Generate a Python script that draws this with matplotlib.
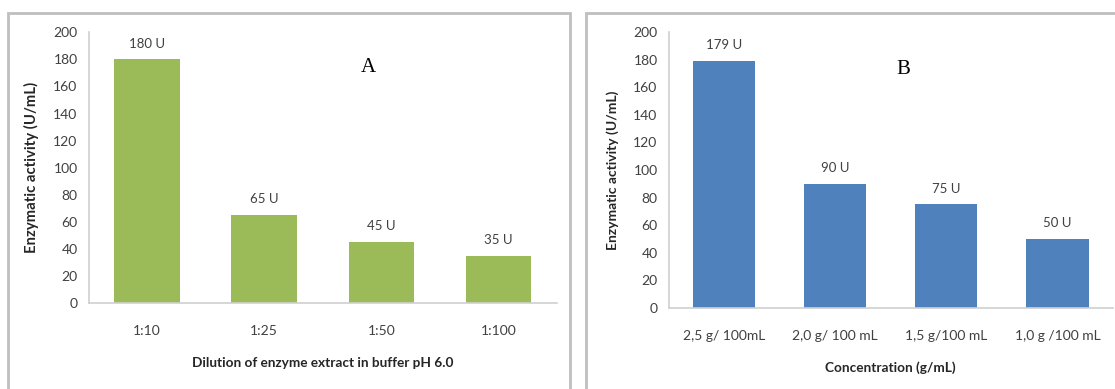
import matplotlib
matplotlib.use("Agg")
import matplotlib.pyplot as plt
from matplotlib.patches import Rectangle

cats_a = ["1:10", "1:25", "1:50", "1:100"]
vals_a = [180, 65, 45, 35]
labels_a = ["180 U", "65 U", "45 U", "35 U"]

cats_b = ["2,5 g/ 100mL", "2,0 g/ 100 mL", "1,5 g/100 mL", "1,0 g /100 mL"]
vals_b = [179, 90, 75, 50]
labels_b = ["179 U", "90 U", "75 U", "50 U"]

yticks = [0, 20, 40, 60, 80, 100, 120, 140, 160, 180, 200]

W, H = 1115, 389
fig = plt.figure(figsize=(W / 100, H / 100), dpi=100)
fam = ["Lato", "DejaVu Sans"]
txt = "#404040"

# panel frames
for (x0, x1) in [(8, 570), (586, 1125)]:
    fig.patches.append(Rectangle((x0 / W, -0.05), (x1 - x0) / W, (H - 13) / H + 0.05,
                                 transform=fig.transFigure, fill=False,
                                 edgecolor="#BFBFBF", linewidth=2.0))

def panel(rect, cats, vals, labs, color, xlabel, letter, letter_xy, ylabel_size):
    l, r, b, t = rect
    ax = fig.add_axes([l / W, (H - b) / H, (r - l) / W, (b - t) / H])
    x = range(len(cats))
    ax.bar(x, vals, width=0.56, color=color, zorder=2)
    ax.set_xlim(-0.5, len(cats) - 0.5)
    ax.set_ylim(0, 200)
    ax.set_yticks(yticks)
    ax.set_xticks(list(x))
    ax.set_xticklabels(cats)
    for s in ["top", "right"]:
        ax.spines[s].set_visible(False)
    for s in ["left", "bottom"]:
        ax.spines[s].set_color("#D0D0D0")
        ax.spines[s].set_linewidth(1.2)
    ax.tick_params(axis="both", length=0, colors=txt, labelsize=10)
    ax.tick_params(axis="y", pad=8)
    ax.tick_params(axis="x", pad=16)
    for lab in ax.get_xticklabels() + ax.get_yticklabels():
        lab.set_family(fam)
    for xi, v, s in zip(x, vals, labs):
        ax.annotate(s, (xi, v), xytext=(0, 7), textcoords="offset points",
                    ha="center", va="bottom", fontsize=9.5, color=txt, family=fam)
    ax.set_xlabel(xlabel, fontsize=9.8, fontweight="bold", color="#262626",
                  family=fam, labelpad=14)
    ax.set_ylabel("Enzymatic activity (U/mL)", fontsize=ylabel_size, fontweight="bold",
                  color="#262626", family=fam, labelpad=10)
    fig.text(letter_xy[0] / W, 1 - letter_xy[1] / H, letter, fontsize=15,
             family="Liberation Serif", ha="center", va="center", color="black")
    return ax

panel((88.6, 557, 303, 32.3), cats_a, vals_a, labels_a, "#9BBB59",
      "Dilution of enzyme extract in buffer pH 6.0", "A", (368, 67), 10.7)
panel((668.6, 1113, 308, 32), cats_b, vals_b, labels_b, "#4F81BD",
      "Concentration (g/mL)", "B", (903, 69), 10)

fig.savefig("out.png", dpi=100)
